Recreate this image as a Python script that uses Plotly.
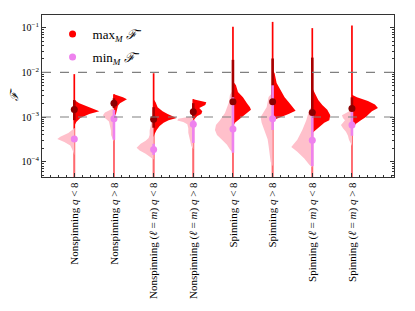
import plotly.graph_objects as go

# ---------------- data ----------------
CATEGORIES = [
    "Nonspinning <i>q</i> &lt; 8",
    "Nonspinning <i>q</i> &gt; 8",
    "Nonspinning (<i>ℓ</i> = <i>m</i>) <i>q</i> &lt; 8",
    "Nonspinning (<i>ℓ</i> = <i>m</i>) <i>q</i> &gt; 8",
    "Spinning <i>q</i> &lt; 8",
    "Spinning <i>q</i> &gt; 8",
    "Spinning (<i>ℓ</i> = <i>m</i>) <i>q</i> &lt; 8",
    "Spinning (<i>ℓ</i> = <i>m</i>) <i>q</i> &gt; 8",
]

# density profiles: log10(F) levels and relative density (half width)
MAX_LEVELS = [
    [-2.62, -2.69, -2.78, -2.87, -2.93, -3.02, -3.11, -3.2],
    [-2.49, -2.51, -2.56, -2.6, -2.64, -2.69, -2.75, -2.84, -2.93, -3.0],
    [-2.6, -2.67, -2.78, -2.87, -2.93, -2.98, -3.02, -3.07, -3.13, -3.2, -3.29, -3.38, -3.45],
    [-2.6, -2.62, -2.67, -2.73, -2.8, -2.87, -2.93, -2.98, -3.05, -3.1],
    [-2.2, -2.29, -2.44, -2.56, -2.69, -2.78, -2.84, -2.91, -3.0, -3.07, -3.13, -3.22],
    [-1.95, -2.02, -2.24, -2.4, -2.56, -2.69, -2.8, -2.86, -2.93, -3.0, -3.04, -3.09],
    [-2.35, -2.47, -2.62, -2.73, -2.84, -2.96, -3.07, -3.13, -3.22, -3.29, -3.36],
    [-2.5, -2.56, -2.64, -2.72, -2.8, -2.87, -2.93, -3.0, -3.07, -3.15, -3.24, -3.3],
]
MAX_DENS = [
    [0, 5, 15, 25, 15, 6, 2, 0],
    [0, 3, 9, 13, 10, 6, 4, 3, 2, 0],
    [0, 2, 4, 9, 14, 20, 23, 15, 10, 6, 3, 1, 0],
    [0, 4, 13, 12, 6, 9, 8, 4, 1, 0],
    [0, 3, 5, 10, 14, 17, 18, 14, 10, 5, 2, 0],
    [0, 2, 4, 8, 12, 17, 21, 23, 16, 8, 4, 0],
    [0, 3, 6, 10, 15, 18, 17, 12, 7, 3, 0],
    [0, 5, 16, 23, 26, 20, 17, 14, 9, 4, 1, 0],
]
MIN_LEVELS = [
    [-3.25, -3.29, -3.36, -3.44, -3.49, -3.56, -3.64, -3.73, -3.85],
    [-2.8, -2.84, -2.9, -2.96, -3.02, -3.1, -3.2, -3.3, -3.4, -3.5, -3.55],
    [-3.05, -3.1, -3.2, -3.3, -3.4, -3.47, -3.53, -3.6, -3.69, -3.75, -3.82, -3.89, -3.95],
    [-2.98, -3.0, -3.04, -3.08, -3.11, -3.16, -3.25, -3.35, -3.45, -3.55, -3.65, -3.72],
    [-2.4, -2.5, -2.67, -2.91, -3.07, -3.18, -3.29, -3.4, -3.51, -3.62, -3.73, -3.8],
    [-2.45, -2.55, -2.78, -2.9, -3.0, -3.13, -3.25, -3.36, -3.5, -3.65, -3.8, -4.0, -4.1],
    [-2.75, -2.84, -3.07, -3.29, -3.51, -3.67, -3.78, -3.93, -4.07, -4.13],
    [-2.84, -2.9, -2.96, -3.02, -3.07, -3.13, -3.18, -3.25, -3.33, -3.42, -3.51, -3.6, -3.65],
]
MIN_DENS = [
    [0, 2, 6, 14, 17, 10, 4, 2, 0],
    [0, 4, 9, 11, 9, 5, 4, 3, 3, 1, 0],
    [0, 2, 3, 4, 4, 5, 8, 13, 17, 14, 8, 3, 0],
    [0, 5, 15, 16, 10, 6, 5, 5, 4, 3, 2, 0],
    [0, 3, 4, 8, 13, 17, 18, 16, 11, 6, 3, 0],
    [0, 4, 6, 9, 12, 11, 9, 7, 5, 4, 3, 2, 0],
    [0, 3, 6, 10, 15, 21, 15, 8, 3, 0],
    [0, 5, 10, 9, 7, 9, 11, 9, 6, 4, 3, 1, 0],
]

MAX_TOP = [-2.04, -2.49, -2.02, -2.6, -0.98, -0.87, -1.01, -0.95]   # log10 of largest max value
TAIL_BOTTOM = -4.6                                                   # tails run below the axis
MAX_BOX = [(-2.62, -3.07), (-2.58, -2.8), (-2.78, -3.24), (-2.69, -3.02),
           (-1.72, -2.72), (-1.69, -2.69), (-1.67, -2.91), (-2.56, -2.8)]
MIN_BOX = [(-3.44, -3.56), (-2.84, -3.51), (-3.6, -3.85), (-3.07, -3.58),
           (-2.56, -3.8), (-2.29, -3.29), (-2.87, -4.1), (-2.84, -3.42)]
MAX_MEDIAN = [-2.83, -2.69, -3.05, -2.88, -2.66, -2.66, -2.9, -2.81]
MIN_MEDIAN = [-3.49, -3.04, -3.73, -3.16, -3.27, -3.04, -3.52, -3.18]

REF_LINES = [1e-2, 1e-3]
Y_TICK_EXP = [-4, -3, -2, -1]
Y_TICK_TEXT = ["10<sup>−4</sup>", "10<sup>−3</sup>", "10<sup>−2</sup>", "10<sup>−1</sup>"]

# ---------------- styling ----------------
RED = "#ff0000"
PINK = "#ffc0cb"
VIOLET = "#ee82ee"
DARK = "#8b0000"
BOXDARK = "#a80000"
SCALE = 1 / 39.7   # density unit -> category units
FONT = "Liberation Serif, DejaVu Serif, serif"

fig = go.Figure()

def p10(v):
    return 10 ** v

for i in range(len(CATEGORIES)):
    # thin tails
    fig.add_trace(go.Scatter(x=[i, i], y=[p10(MAX_TOP[i]), p10(TAIL_BOTTOM)], mode="lines",
                             line=dict(color=RED, width=1.7), hoverinfo="skip", showlegend=False))
    fig.add_trace(go.Scatter(x=[i, i], y=[p10(MIN_LEVELS[i][0]), p10(TAIL_BOTTOM)], mode="lines",
                             line=dict(color=PINK, width=1.7), opacity=0.55,
                             hoverinfo="skip", showlegend=False))

for i in range(len(CATEGORIES)):
    # min violin (left half)
    lv, dn = MIN_LEVELS[i], MIN_DENS[i]
    xs = [i - d * SCALE for d in dn] + [i] * len(lv)
    ys = [p10(v) for v in lv] + [p10(v) for v in lv[::-1]]
    fig.add_trace(go.Scatter(x=xs, y=ys, mode="lines", fill="toself", fillcolor=PINK,
                             line=dict(width=0, color=PINK), hoverinfo="skip", showlegend=False))
    # max violin (right half)
    lv, dn = MAX_LEVELS[i], MAX_DENS[i]
    xs = [i + d * SCALE for d in dn] + [i] * len(lv)
    ys = [p10(v) for v in lv] + [p10(v) for v in lv[::-1]]
    fig.add_trace(go.Scatter(x=xs, y=ys, mode="lines", fill="toself", fillcolor=RED,
                             line=dict(width=0, color=RED), hoverinfo="skip", showlegend=False))

for i in range(len(CATEGORIES)):
    fig.add_trace(go.Scatter(x=[i, i], y=[p10(MAX_BOX[i][0]), p10(MAX_BOX[i][1])], mode="lines",
                             line=dict(color=BOXDARK, width=2.6), hoverinfo="skip", showlegend=False))
    fig.add_trace(go.Scatter(x=[i, i], y=[p10(MIN_BOX[i][0]), p10(MIN_BOX[i][1])], mode="lines",
                             line=dict(color=VIOLET, width=2.6), hoverinfo="skip", showlegend=False))

xi = list(range(len(CATEGORIES)))
fig.add_trace(go.Scatter(x=xi, y=[p10(v) for v in MAX_MEDIAN], mode="markers",
                         marker=dict(color=DARK, size=7), hoverinfo="skip", showlegend=False))
fig.add_trace(go.Scatter(x=xi, y=[p10(v) for v in MIN_MEDIAN], mode="markers",
                         marker=dict(color=VIOLET, size=7), hoverinfo="skip", showlegend=False))

# legend entries
fig.add_trace(go.Scatter(x=[None], y=[None], mode="markers", marker=dict(color=RED, size=7),
                         name="max<sub><i>M</i></sub> <i>ℱ̄</i>", legendgroup="a"))
fig.add_trace(go.Scatter(x=[None], y=[None], mode="markers", marker=dict(color=VIOLET, size=7),
                         name="min<sub><i>M</i></sub> <i>ℱ̄</i>", legendgroup="b"))

for r in REF_LINES:
    fig.add_hline(y=r, line=dict(color="#808080", width=1.2, dash="dash"), layer="above")

minor_y = [m * 10 ** e for e in range(-5, 0) for m in range(2, 10)]

# the page body adds an 8 px offset; margins compensate so the frame lands at x 42-394, y 15-177
fig.update_layout(
    width=415, height=311,
    margin=dict(l=34, r=29, t=7, b=142),
    paper_bgcolor="white", plot_bgcolor="white",
    font=dict(family=FONT, size=10, color="black"),
    showlegend=True,
    legend=dict(x=0.03, y=0.975, xanchor="left", yanchor="top", bgcolor="rgba(0,0,0,0)",
                font=dict(family=FONT, size=13), itemwidth=30,
                traceorder="grouped", tracegroupgap=3),
    xaxis=dict(
        range=[-0.814, 8.06], tickmode="array", tickvals=xi, ticktext=CATEGORIES,
        tickangle=-90, ticks="inside", ticklen=4, tickcolor="#333", showgrid=False,
        zeroline=False, showline=True, linecolor="#333", linewidth=1, mirror=True,
        tickfont=dict(family=FONT, size=11), automargin=False,
        minor=dict(ticks="inside", ticklen=2, dtick=0.2, tick0=0, tickcolor="#333", showgrid=False),
    ),
    yaxis=dict(
        type="log", range=[-4.343, -0.716], tickmode="array",
        tickvals=[p10(e) for e in Y_TICK_EXP], ticktext=Y_TICK_TEXT,
        ticks="inside", ticklen=4, tickcolor="#333", showgrid=False, zeroline=False,
        showline=True, linecolor="#333", linewidth=1, mirror="ticks",
        tickfont=dict(family=FONT, size=10), automargin=False,
        title=dict(text="<i>ℱ̄</i>", font=dict(family=FONT, size=11), standoff=1),
        minor=dict(ticks="inside", ticklen=2, tickmode="array", tickvals=minor_y,
                   tickcolor="#333", showgrid=False),
    ),
)

fig.write_html("out.html")
